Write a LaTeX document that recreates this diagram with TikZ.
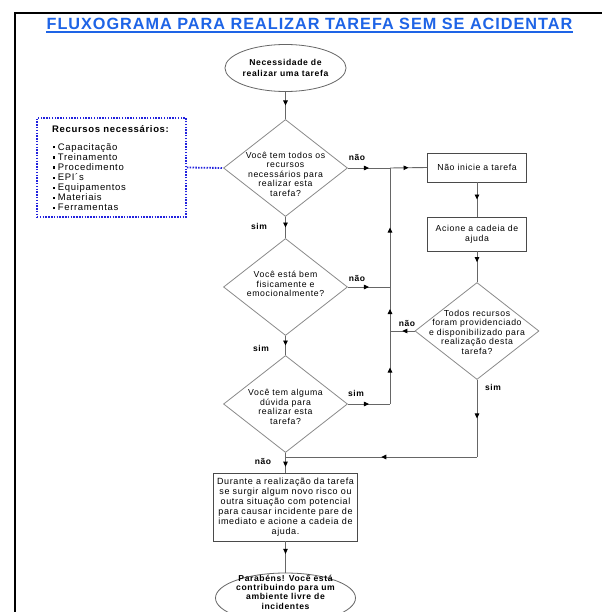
\documentclass[tikz,border=0pt]{standalone}
\usepackage{fontspec}
\setmainfont{Liberation Sans}[LetterSpace=7]
\newfontfamily\titlefont{Liberation Sans}[LetterSpace=6]
\usetikzlibrary{arrows.meta,decorations.markings,shapes.geometric}
\definecolor{ttlblue}{HTML}{1E64E6}
\definecolor{dotblue}{HTML}{2222DD}
\definecolor{lngray}{HTML}{666666}
\definecolor{dgray}{HTML}{8A8A8A}
\definecolor{bxgray}{HTML}{4A4A4A}
\newcommand{\bul}{\raisebox{1.6bp}{\rule{2.2bp}{2.2bp}}\hspace{2.5bp}}
\begin{document}
\begin{tikzpicture}[x=1bp,y=-1bp,
  conn/.style={draw=lngray,line width=0.9bp},
  midarr/.style={postaction={decorate},decoration={markings,mark=at position #1 with {\arrow[black]{Triangle[length=5bp,width=4.5bp]}}}},
  midarr/.default=0.5,
  dia/.style={diamond,draw=dgray,line width=0.8bp,minimum width=124bp,minimum height=97bp,inner sep=0pt},
  dtxt/.style={align=center,inner sep=0pt,font=\fontsize{8.7bp}{9.5bp}\selectfont},
  procbox/.style={draw=bxgray,line width=0.8bp,inner sep=0pt,align=center,font=\fontsize{8.7bp}{9.5bp}\selectfont},
  term/.style={ellipse,draw=lngray,line width=0.8bp,inner sep=0pt,align=center},
  lbl/.style={inner sep=0pt,font=\fontsize{8.5bp}{9.4bp}\selectfont\bfseries}
]
\useasboundingbox (0,0) rectangle (602,612);
\clip (0,0) rectangle (602,612);
\fill[white] (0,0) rectangle (602,612);
% frame
\draw[line width=2bp] (15,13) rectangle (700,700);
% title
\node[inner sep=0pt,text=ttlblue,font=\titlefont\fontsize{16.25bp}{18bp}\selectfont\bfseries] (ttl) at (309.5,24) {FLUXOGRAMA PARA REALIZAR TAREFA SEM SE ACIDENTAR};
\draw[ttlblue,line width=1.3bp] ([yshift=-2bp]ttl.south west) -- ([yshift=-2bp]ttl.south east);
% start
\node[term,minimum width=114bp,minimum height=47bp,font=\fontsize{8.6bp}{11bp}\selectfont\bfseries] (e1) at (285.5,68) {Necessidade de\\realizar uma tarefa};
% diamonds
\node[dia] (d1) at (285.5,168) {};
\node[dtxt] (d1t) at (285.5,174) {Você tem todos os\\recursos\\necessários para\\realizar esta\\tarefa?};
\node[dia] (d2) at (285.5,287) {};
\node[dtxt] (d2t) at (285.5,284) {Você está bem\\fisicamente e\\emocionalmente?};
\node[dia] (d4) at (285.5,404) {};
\node[dtxt] (d4t) at (285.5,407) {Você tem alguma\\dúvida para\\realizar esta\\tarefa?};
\node[dia] (d3) at (477,331) {};
\node[dtxt] (d3t) at (477,332) {Todos recursos\\foram providenciado\\e disponibilizado para\\realização desta\\tarefa?};
% boxes
\node[procbox,minimum width=99bp,minimum height=29bp] (b1) at (477,167.5) {Não inicie a tarefa};
\node[procbox,minimum width=99bp,minimum height=34bp] (b2) at (477,234) {Acione a cadeia de\\ajuda};
\node[procbox,minimum width=144bp,minimum height=68bp,font=\fontsize{9bp}{10bp}\selectfont] (b3) at (285.5,507) {Durante a realização da tarefa\\se surgir algum novo risco ou\\outra situação com potencial\\para causar incidente pare de\\imediato e acione a cadeia de\\ajuda.};
% end
\node[term,minimum width=140bp,minimum height=50bp] (e2) at (285.5,598) {};
\node[inner sep=0pt,align=center,font=\fontsize{8.6bp}{9.4bp}\selectfont\bfseries] (e2t) at (285.5,592) {Parabéns! Você está\\contribuindo para um\\ambiente livre de\\incidentes};
% resources box
\node[draw=dotblue,line width=1.8bp,dash pattern=on 1.5bp off 1.3bp,minimum width=149bp,minimum height=99bp,inner sep=0pt] (rb) at (111.5,167.5) {};
\node[inner sep=0pt,anchor=west,font=\fontsize{9.5bp}{10bp}\selectfont\bfseries] (rbt) at (52,129) {Recursos necessários:};
\node[inner sep=0pt,anchor=west,align=left,font=\fontsize{9.5bp}{10.1bp}\selectfont] (rbl) at (53,177) {\bul Capacitação\\\bul Treinamento\\\bul Procedimento\\\bul EPI´s\\\bul Equipamentos\\\bul Materiais\\\bul Ferramentas};
\draw[draw=dotblue,line width=1.8bp,dash pattern=on 1.5bp off 1.3bp] (rb.east) -- (d1.west);
% junctions
\coordinate (j1) at (390,168);
\coordinate (j2) at (390,287);
\coordinate (j3) at (390,331);
\coordinate (j4) at (390,404);
\coordinate (k1) at (477,457);
\coordinate (k2) at (285.5,457);
% connectors
\draw[conn,midarr] (e1.south) -- (d1.north);
\draw[conn,midarr] (d1.south) -- (d2.north);
\draw[conn,midarr] (d2.south) -- (d4.north);
\draw[conn,midarr=0.7] (d4.south) -- (b3.north);
\draw[conn,midarr=0.4] (b3.south) -- (e2.north);
\draw[conn,midarr] (d1.east) -- (j1);
\draw[conn,midarr] (j1) -- (b1.west);
\draw[conn,midarr] (b1.south) -- (b2.north);
\draw[conn,midarr=0.35] (b2.south) -- (d3.north);
\draw[conn,midarr] (d2.east) -- (j2);
\draw[conn,midarr] (d3.west) -- (j3);
\draw[conn,midarr] (d4.east) -- (j4);
\draw[conn,midarr] (j4) -- (j3);
\draw[conn,midarr] (j3) -- (j2);
\draw[conn,midarr] (j2) -- (j1);
\draw[conn,midarr] (d3.south) -- (k1);
\draw[conn,midarr] (k1) -- (k2);
% labels
\node[lbl] (l1) at (357,157) {não};
\node[lbl] (l2) at (259,226) {sim};
\node[lbl] (l3) at (357,278) {não};
\node[lbl] (l4) at (261,348) {sim};
\node[lbl] (l5) at (356,393) {sim};
\node[lbl] (l6) at (263,461) {não};
\node[lbl] (l7) at (407,323) {não};
\node[lbl] (l8) at (493,387) {sim};
\end{tikzpicture}
\end{document}
